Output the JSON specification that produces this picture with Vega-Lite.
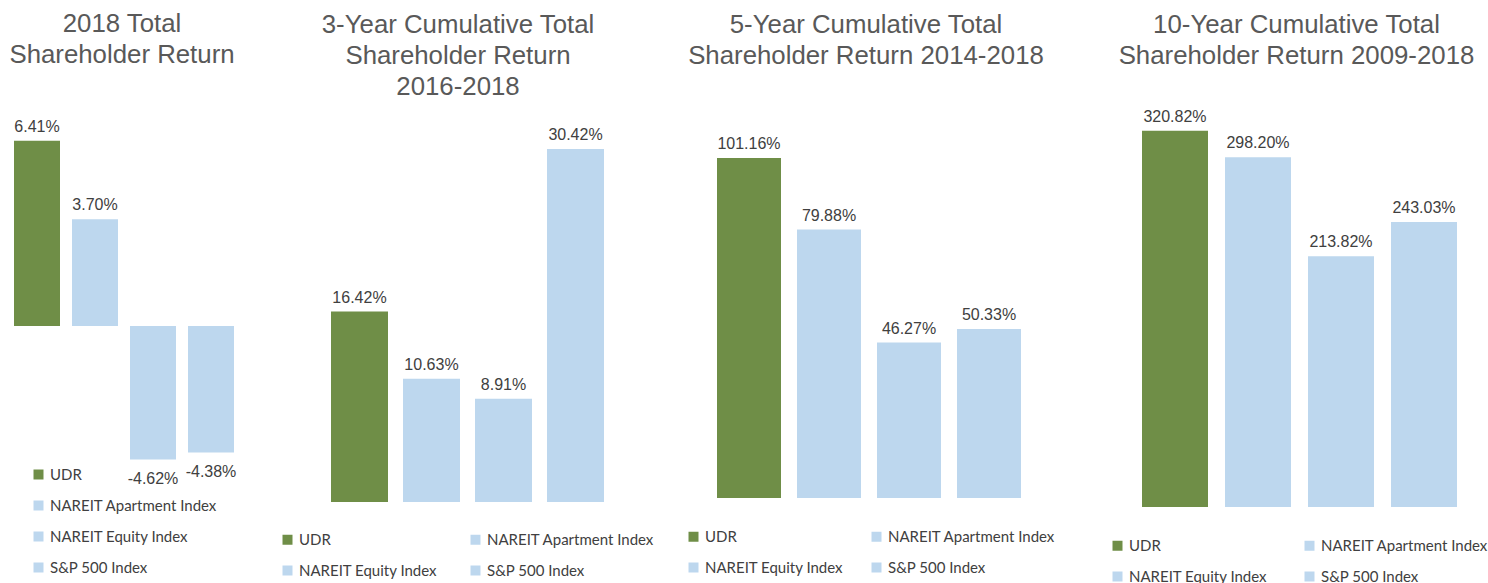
{
  "$schema": "https://vega.github.io/schema/vega-lite/v6.json",
  "autosize": {"type": "none"},
  "padding": {"left": 0, "top": 110, "right": 1488, "bottom": 473},
  "background": "white",
  "bounds": "flush",
  "spacing": 40,
  "config": {
    "view": {"stroke": null},
    "title": {"font": "Liberation Sans", "fontSize": 25.8, "fontWeight": "normal", "color": "#595959", "anchor": "middle", "frame": "group", "baseline": "bottom", "lineHeight": 31},
    "text": {"font": "Liberation Sans", "fontSize": 16, "color": "#404040"},
    "legend": {"orient": "none", "title": null, "symbolType": "square", "symbolSize": 100, "symbolStrokeWidth": 0, "symbolOpacity": 1, "labelFont": "Lato", "labelFontSize": 15, "labelColor": "#404040", "labelOffset": 4, "rowPadding": 15, "padding": 0, "labelLimit": 400}
  },
  "datasets": {
    "tsr1": [
      {"series": "UDR", "value": 6.41, "label": "6.41%"},
      {"series": "NAREIT Apartment Index", "value": 3.70, "label": "3.70%"},
      {"series": "NAREIT Equity Index", "value": -4.62, "label": "-4.62%"},
      {"series": "S&P 500 Index", "value": -4.38, "label": "-4.38%"}
    ],
    "tsr3": [
      {"series": "UDR", "value": 16.42, "label": "16.42%"},
      {"series": "NAREIT Apartment Index", "value": 10.63, "label": "10.63%"},
      {"series": "NAREIT Equity Index", "value": 8.91, "label": "8.91%"},
      {"series": "S&P 500 Index", "value": 30.42, "label": "30.42%"}
    ],
    "tsr5": [
      {"series": "UDR", "value": 101.16, "label": "101.16%"},
      {"series": "NAREIT Apartment Index", "value": 79.88, "label": "79.88%"},
      {"series": "NAREIT Equity Index", "value": 46.27, "label": "46.27%"},
      {"series": "S&P 500 Index", "value": 50.33, "label": "50.33%"}
    ],
    "tsr10": [
      {"series": "UDR", "value": 320.82, "label": "320.82%"},
      {"series": "NAREIT Apartment Index", "value": 298.20, "label": "298.20%"},
      {"series": "NAREIT Equity Index", "value": 213.82, "label": "213.82%"},
      {"series": "S&P 500 Index", "value": 243.03, "label": "243.03%"}
    ]
  },
  "resolve": {"scale": {"x": "independent", "y": "independent", "color": "independent"}, "legend": {"color": "independent"}},
  "hconcat": [
    {
      "width": 248, "height": 473,
      "title": {"text": ["2018 Total", "Shareholder Return"], "offset": 41, "dx": -2},
      "data": {"name": "tsr1"},
      "encoding": {
        "x": {"field": "series", "type": "nominal", "sort": null, "axis": null, "scale": {"paddingInner": 0.2069, "paddingOuter": 0.2414}},
        "y": {"field": "value", "type": "quantitative", "axis": null, "scale": {"domain": [-8.899, 7.479], "nice": false, "zero": false}}
      },
      "layer": [
        {"mark": {"type": "bar"},
         "encoding": {"y2": {"datum": 0},
           "color": {"field": "series", "type": "nominal", "sort": null,
             "scale": {"domain": ["UDR", "NAREIT Apartment Index", "NAREIT Equity Index", "S&P 500 Index"], "range": ["#6F8E47", "#BDD7EE", "#BDD7EE", "#BDD7EE"]},
             "legend": {"columns": 1, "direction": "vertical", "legendX": 31, "legendY": 357}}}},
        {"transform": [{"filter": "datum.value >= 0"}],
         "mark": {"type": "text", "baseline": "alphabetic", "dy": -9},
         "encoding": {"text": {"field": "label"}}},
        {"transform": [{"filter": "datum.value < 0"}],
         "mark": {"type": "text", "baseline": "top", "dy": 12},
         "encoding": {"text": {"field": "label"}}}
      ]
    },
    {
      "width": 359, "height": 473,
      "title": {"text": ["3-Year Cumulative Total", "Shareholder Return", "2016-2018"], "offset": 9, "dx": -9.5},
      "data": {"name": "tsr3"},
      "encoding": {
        "x": {"field": "series", "type": "nominal", "sort": null, "axis": null, "scale": {"paddingInner": 0.2083, "paddingOuter": 0.5972}},
        "y": {"field": "value", "type": "quantitative", "axis": null, "scale": {"domain": [-6.983, 33.79], "nice": false, "zero": false}}
      },
      "layer": [
        {"mark": {"type": "bar"},
         "encoding": {"y2": {"datum": 0},
           "color": {"field": "series", "type": "nominal", "sort": null,
             "scale": {"domain": ["UDR", "NAREIT Apartment Index", "NAREIT Equity Index", "S&P 500 Index"], "range": ["#6F8E47", "#BDD7EE", "#BDD7EE", "#BDD7EE"]},
             "legend": {"columns": 2, "direction": "horizontal", "columnPadding": 30, "legendX": -8, "legendY": 422}}}},
        {"mark": {"type": "text", "baseline": "alphabetic", "dy": -9},
         "encoding": {"text": {"field": "label"}}}
      ]
    },
    {
      "width": 364, "height": 473,
      "title": {"text": ["5-Year Cumulative Total", "Shareholder Return 2014-2018"], "offset": 40, "dx": -3},
      "data": {"name": "tsr5"},
      "encoding": {
        "x": {"field": "series", "type": "nominal", "sort": null, "axis": null, "scale": {"paddingInner": 0.2, "paddingOuter": 0.375}},
        "y": {"field": "value", "type": "quantitative", "axis": null, "scale": {"domain": [-25.30, 115.48], "nice": false, "zero": false}}
      },
      "layer": [
        {"mark": {"type": "bar"},
         "encoding": {"y2": {"datum": 0},
           "color": {"field": "series", "type": "nominal", "sort": null,
             "scale": {"domain": ["UDR", "NAREIT Apartment Index", "NAREIT Equity Index", "S&P 500 Index"], "range": ["#6F8E47", "#BDD7EE", "#BDD7EE", "#BDD7EE"]},
             "legend": {"columns": 2, "direction": "horizontal", "columnPadding": 25, "legendX": -1, "legendY": 419}}}},
        {"mark": {"type": "text", "baseline": "alphabetic", "dy": -9},
         "encoding": {"text": {"field": "label"}}}
      ]
    },
    {
      "width": 417, "height": 473,
      "title": {"text": ["10-Year Cumulative Total", "Shareholder Return 2009-2018"], "offset": 39, "dx": -3},
      "data": {"name": "tsr10"},
      "encoding": {
        "x": {"field": "series", "type": "nominal", "sort": null, "axis": null, "scale": {"paddingInner": 0.2048, "paddingOuter": 0.6145}},
        "y": {"field": "value", "type": "quantitative", "axis": null, "scale": {"domain": [-64.79, 338.45], "nice": false, "zero": false}}
      },
      "layer": [
        {"mark": {"type": "bar"},
         "encoding": {"y2": {"datum": 0},
           "color": {"field": "series", "type": "nominal", "sort": null,
             "scale": {"domain": ["UDR", "NAREIT Apartment Index", "NAREIT Equity Index", "S&P 500 Index"], "range": ["#6F8E47", "#BDD7EE", "#BDD7EE", "#BDD7EE"]},
             "legend": {"columns": 2, "direction": "horizontal", "columnPadding": 34, "legendX": 19, "legendY": 428}}}},
        {"mark": {"type": "text", "baseline": "alphabetic", "dy": -9},
         "encoding": {"text": {"field": "label"}}}
      ]
    }
  ]
}
